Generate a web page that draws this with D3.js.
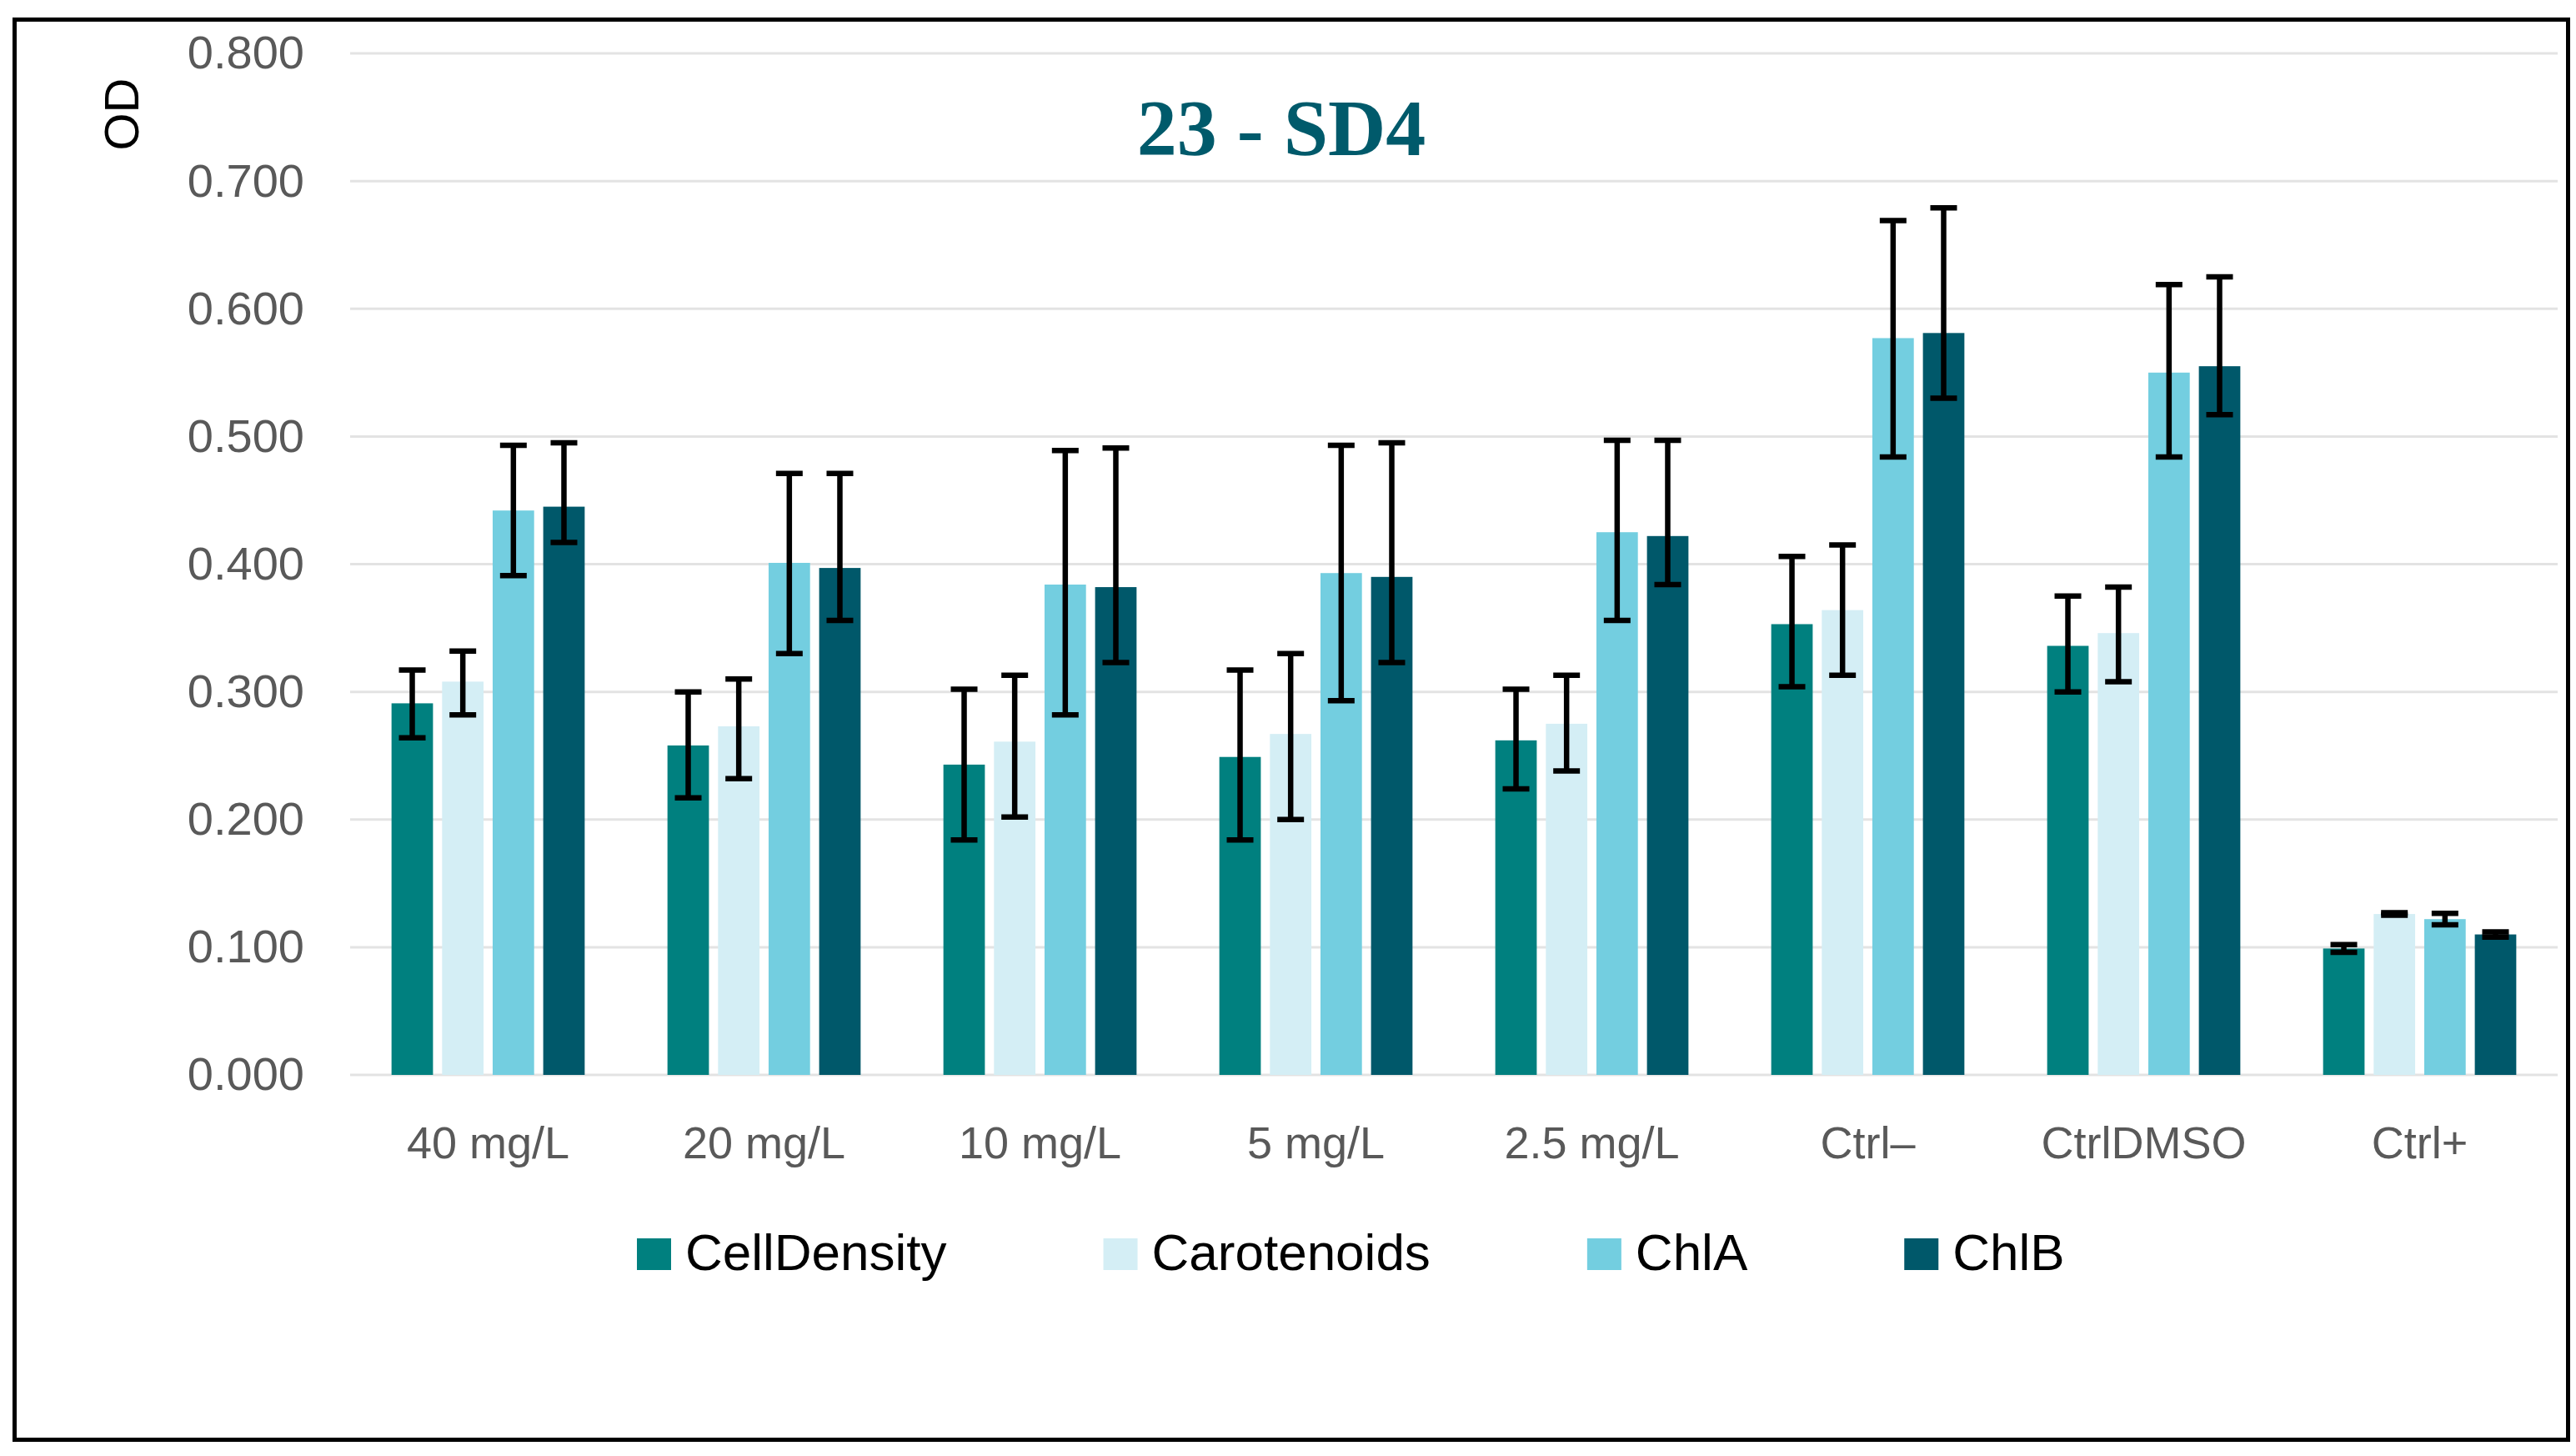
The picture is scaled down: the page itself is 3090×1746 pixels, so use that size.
<!DOCTYPE html>
<html>
<head>
<meta charset="utf-8">
<script src="https://cdn.jsdelivr.net/npm/d3@7"></script>
<style>
  body { margin: 0; background: #fff; }
</style>
</head>
<body>
<svg id="chart"></svg>
<script>
// data
const categories = ["40 mg/L", "20 mg/L", "10 mg/L", "5 mg/L", "2.5 mg/L", "Ctrl\u2013", "CtrlDMSO", "Ctrl+"];
const seriesNames = ["CellDensity", "Carotenoids", "ChlA", "ChlB"];

const cellDensity = [0.291, 0.258, 0.243, 0.249, 0.262, 0.353, 0.336, 0.099];
const carotenoids = [0.308, 0.273, 0.261, 0.267, 0.275, 0.364, 0.346, 0.126];
const chlA        = [0.442, 0.401, 0.384, 0.393, 0.425, 0.577, 0.550, 0.122];
const chlB        = [0.445, 0.397, 0.382, 0.390, 0.422, 0.581, 0.555, 0.110];

// error bars (plus / minus)
const cellDensityErrUp   = [0.026, 0.042, 0.059, 0.068, 0.040, 0.053, 0.039, 0.003];
const cellDensityErrDown = [0.027, 0.041, 0.059, 0.065, 0.038, 0.049, 0.036, 0.003];
const carotenoidsErrUp   = [0.024, 0.037, 0.052, 0.063, 0.038, 0.051, 0.036, 0.001];
const carotenoidsErrDown = [0.026, 0.041, 0.059, 0.067, 0.037, 0.051, 0.038, 0.001];
const chlAErrUp          = [0.051, 0.070, 0.105, 0.100, 0.072, 0.092, 0.069, 0.0045];
const chlAErrDown        = [0.051, 0.071, 0.102, 0.100, 0.069, 0.093, 0.066, 0.0045];
const chlBErrUp          = [0.050, 0.074, 0.109, 0.105, 0.075, 0.098, 0.070, 0.002];
const chlBErrDown        = [0.028, 0.041, 0.059, 0.067, 0.038, 0.051, 0.038, 0.002];

const yTicks = [0, 0.1, 0.2, 0.3, 0.4, 0.5, 0.6, 0.7, 0.8];

const colors = ["#00807F", "#D4EEF5", "#73CEE0", "#00586A"];

const sans = "'Liberation Sans', Arial, sans-serif";
const serif = "'Liberation Serif', 'Times New Roman', serif";

const W = 3090, H = 1746;
const svg = d3.select("#chart").attr("width", W).attr("height", H);

// outer frame
svg.append("rect")
    .attr("x", 17.5).attr("y", 23.5)
    .attr("width", 3063).attr("height", 1703)
    .attr("fill", "#fff")
    .attr("stroke", "#000")
    .attr("stroke-width", 5);

const plotLeft = 420, plotRight = 3068;
const y = d3.scaleLinear().domain([0, 0.8]).range([1289, 64]);

const x0 = d3.scaleBand()
    .domain(categories)
    .range([plotLeft, plotRight])
    .paddingInner(0.3)
    .paddingOuter(0.15);

const x1 = d3.scaleBand()
    .domain(seriesNames)
    .range([0, x0.bandwidth()])
    .paddingInner(0.18);

// gridlines
svg.append("g")
    .selectAll("line")
    .data(yTicks)
    .enter()
    .append("line")
    .attr("x1", plotLeft).attr("x2", plotRight)
    .attr("y1", d => y(d)).attr("y2", d => y(d))
    .attr("stroke", "#E3E3E3")
    .attr("stroke-width", 3);

// y axis labels
const yAxis = svg.append("g")
    .attr("transform", `translate(${plotLeft},0)`)
    .call(d3.axisLeft(y).tickValues(yTicks).tickFormat(d3.format(".3f")).tickSize(0).tickPadding(55));
yAxis.select(".domain").remove();
yAxis.selectAll("text")
    .style("font-family", sans)
    .style("font-size", "56px")
    .attr("fill", "#595959");

// x axis labels
const xAxis = svg.append("g")
    .attr("transform", `translate(0,${y(0)})`)
    .call(d3.axisBottom(x0).tickSize(0).tickPadding(62));
xAxis.select(".domain").remove();
xAxis.selectAll("text")
    .style("font-family", sans)
    .style("font-size", "54px")
    .attr("fill", "#595959");

// bars
const valueSets = [cellDensity, carotenoids, chlA, chlB];
const errUpSets = [cellDensityErrUp, carotenoidsErrUp, chlAErrUp, chlBErrUp];
const errDownSets = [cellDensityErrDown, carotenoidsErrDown, chlAErrDown, chlBErrDown];

const rows = [];
categories.forEach((c, i) => {
    seriesNames.forEach((s, j) => {
        rows.push({
            cat: c, series: s, color: colors[j],
            value: valueSets[j][i],
            up: errUpSets[j][i],
            down: errDownSets[j][i]
        });
    });
});

svg.append("g")
    .selectAll("rect")
    .data(rows)
    .enter()
    .append("rect")
    .attr("x", d => x0(d.cat) + x1(d.series))
    .attr("y", d => y(d.value))
    .attr("width", x1.bandwidth())
    .attr("height", d => y(0) - y(d.value))
    .attr("fill", d => d.color);

// error bars
const capW = 32;
const errG = svg.append("g")
    .attr("stroke", "#000")
    .attr("stroke-width", 6.5)
    .attr("fill", "none");

rows.forEach(d => {
    const cx = x0(d.cat) + x1(d.series) + x1.bandwidth() / 2;
    const yTop = y(d.value + d.up);
    const yBot = y(d.value - d.down);
    errG.append("line").attr("x1", cx).attr("x2", cx).attr("y1", yTop).attr("y2", yBot);
    errG.append("line").attr("x1", cx - capW / 2).attr("x2", cx + capW / 2).attr("y1", yTop).attr("y2", yTop);
    errG.append("line").attr("x1", cx - capW / 2).attr("x2", cx + capW / 2).attr("y1", yBot).attr("y2", yBot);
});

// title
svg.append("text")
    .attr("x", 1537).attr("y", 186)
    .attr("text-anchor", "middle")
    .style("font-family", serif)
    .style("font-weight", "bold")
    .style("font-size", "96px")
    .attr("fill", "#005A6B")
    .text("23 - SD4");

// y axis title
svg.append("text")
    .attr("transform", "translate(166,137) rotate(-90)")
    .attr("text-anchor", "middle")
    .style("font-family", sans)
    .style("font-size", "58px")
    .attr("fill", "#000")
    .text("OD");

// legend
const legend = svg.append("g");
let lx = 764;
seriesNames.forEach((s, j) => {
    legend.append("rect")
        .attr("x", lx).attr("y", 1485)
        .attr("width", 41).attr("height", 38)
        .attr("fill", colors[j]);
    const t = legend.append("text")
        .attr("x", lx + 58).attr("y", 1523)
        .style("font-family", sans)
        .style("font-size", "62px")
        .attr("fill", "#000")
        .text(s);
    lx = lx + 58 + t.node().getComputedTextLength() + 188;
});
</script>
</body>
</html>
